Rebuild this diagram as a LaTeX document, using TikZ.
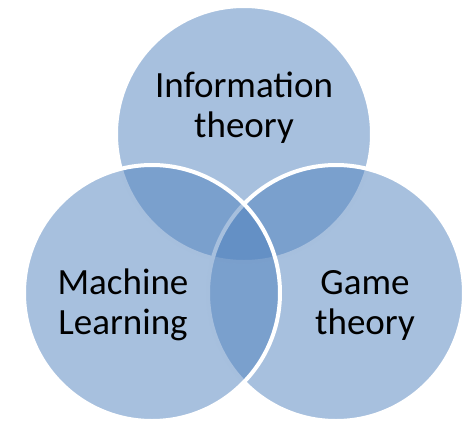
\documentclass[tikz,border=0pt]{standalone}
\usepackage{fontspec}
\setmainfont{Carlito}
\definecolor{vennblue}{RGB}{79,129,189}

\begin{document}
\begin{tikzpicture}[
    x=1pt, y=-1pt,
    venn/.style={circle, minimum size=256pt, inner sep=0pt,
        fill=vennblue, fill opacity=0.5, draw=white, line width=4pt},
    label/.style={align=center, text=black, font=\fontsize{37}{40}\selectfont}
]
\useasboundingbox (0,0) rectangle (464,421);

% Circles (top, right, left)
\node[venn] (info) at (244,134) {};
\node[venn] (game) at (336,293) {};
\node[venn] (ml) at (152,293) {};

% Labels
\node[label] (infotext) at (244,108) {Information\\theory};
\node[label] (mltext) at (123,305) {Machine\\Learning};
\node[label] (gametext) at (365,305) {Game\\theory};

\end{tikzpicture}
\end{document}
